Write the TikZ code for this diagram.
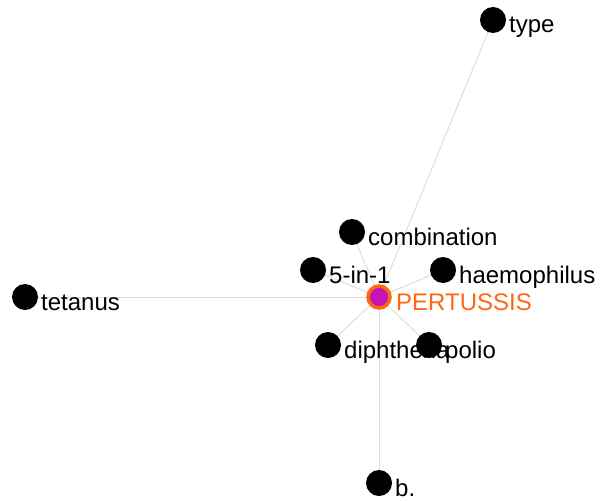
\documentclass[tikz,border=0pt]{standalone}
\usepackage{fontspec}
\setmainfont{Liberation Sans}
\usetikzlibrary{calc}
\definecolor{edgegray}{RGB}{222,222,222}
\definecolor{hubring}{RGB}{255,102,17}
\definecolor{hubfill}{RGB}{196,22,180}
\begin{document}
\begin{tikzpicture}[x=1pt,y=-1pt,
  term/.style={circle,fill=black,minimum size=26pt,inner sep=0pt},
  hub/.style={circle,fill=hubfill,draw=hubring,line width=3.5pt,minimum size=22pt,inner sep=0pt},
  link/.style={draw=edgegray,line width=1pt},
  lbl/.style={anchor=base west,inner sep=0pt,font=\fontsize{24}{26}\selectfont},
  hublbl/.style={lbl,text=hubring}]
\useasboundingbox[fill=white] (0,0) rectangle (601,500);
% positions
\coordinate (cP) at (379,297);
\coordinate (cType) at (493,20);
\coordinate (cComb) at (352,232);
\coordinate (cFive) at (313,270);
\coordinate (cHaem) at (443,270);
\coordinate (cTet) at (25,297);
\coordinate (cDip) at (328,345);
\coordinate (cPol) at (429,345);
\coordinate (cB) at (379,483);
% links from the hub
\foreach \t in {cType,cComb,cFive,cHaem,cTet,cDip,cPol,cB}
  \path[link] (cP) -- (\t);
% terms
\node[term] (type) at (cType) {};
\node[lbl] (typeL) at ($(cType)+(16,13)$) {type};
\node[term] (comb) at (cComb) {};
\node[lbl] (combL) at ($(cComb)+(16,13)$) {combination};
\node[term] (five) at (cFive) {};
\node[lbl] (fiveL) at ($(cFive)+(16,13)$) {5-in-1};
\node[term] (haem) at (cHaem) {};
\node[lbl] (haemL) at ($(cHaem)+(16,13)$) {haemophilus};
\node[term] (tet) at (cTet) {};
\node[lbl] (tetL) at ($(cTet)+(16,13)$) {tetanus};
\node[term] (dip) at (cDip) {};
\node[lbl] (dipL) at ($(cDip)+(16,13)$) {diphtheria};
\node[term] (pol) at (cPol) {};
\node[lbl] (polL) at ($(cPol)+(16,13)$) {polio};
\node[term] (b) at (cB) {};
\node[lbl] (bL) at ($(cB)+(16,13)$) {b.};
% hub
\node[hub] (pert) at (cP) {};
\node[hublbl] (pertL) at ($(cP)+(17,13)$) {PERTUSSIS};
\end{tikzpicture}
\end{document}
